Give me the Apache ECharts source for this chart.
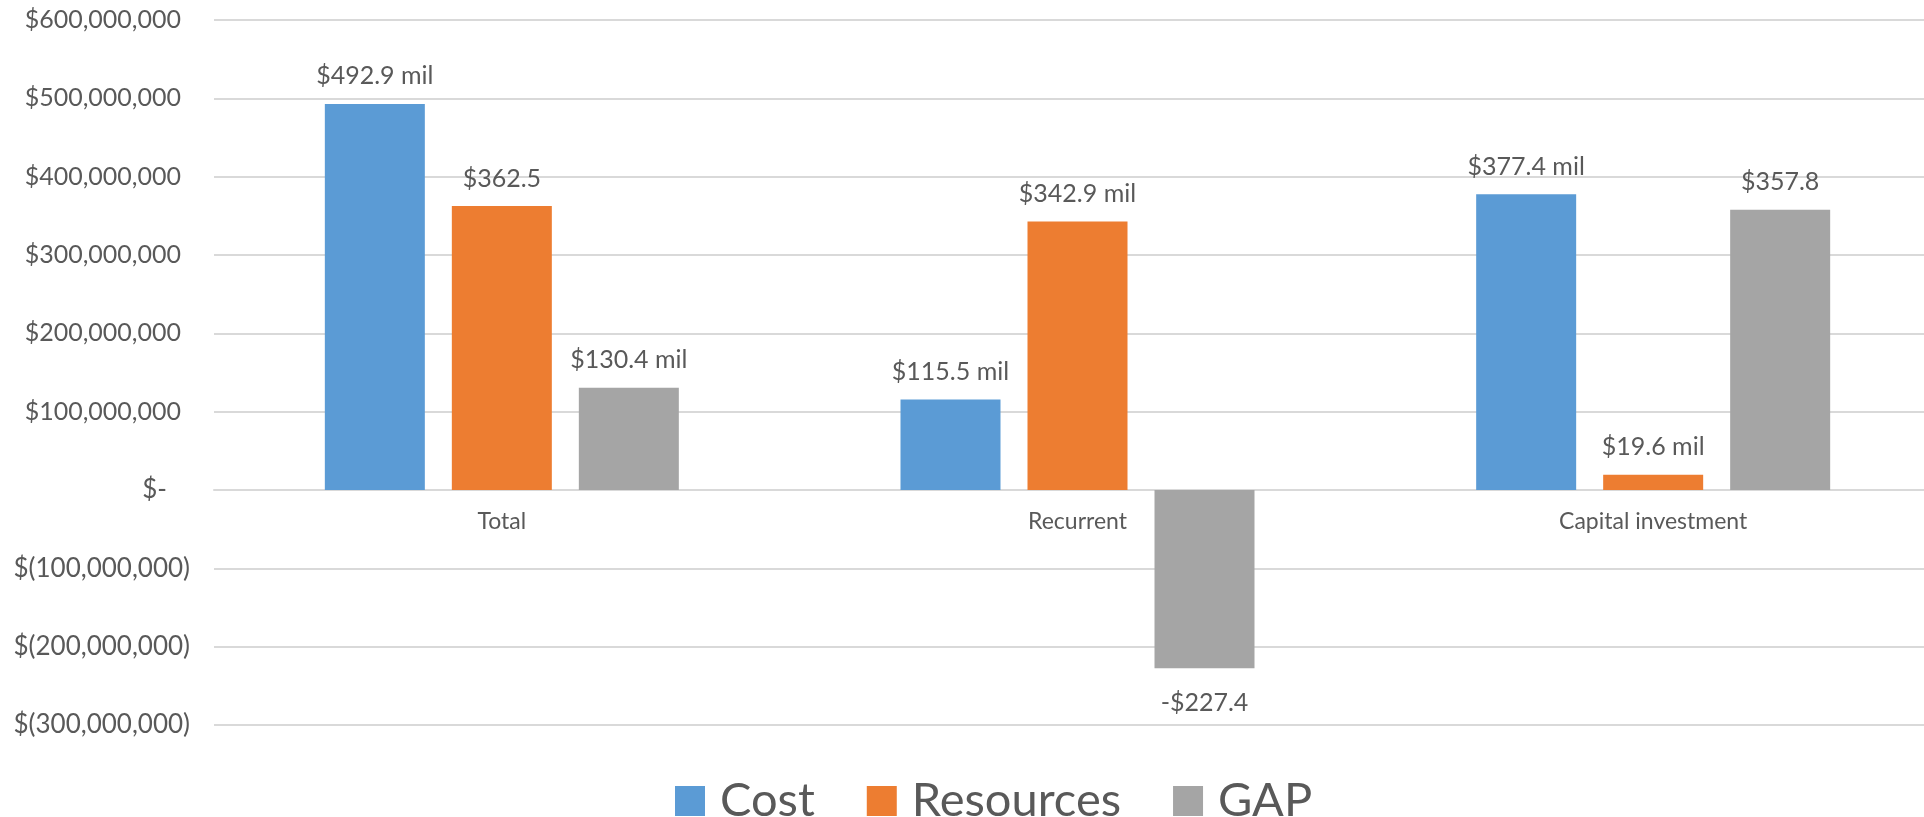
<!DOCTYPE html>
<html>
<head>
<meta charset="utf-8">
<script src="https://cdn.jsdelivr.net/npm/echarts@6/dist/echarts.min.js"></script>
<style>
html,body{margin:0;padding:0;background:#fff;}
#chart{width:1924px;height:817px;}
</style>
</head>
<body>
<div id="chart"></div>
<script>
const categories = ['Total', 'Recurrent', 'Capital investment'];
const costValues = [492.9e6, 115.5e6, 377.4e6];
const resourcesValues = [362.5e6, 342.9e6, 19.6e6];
const gapValues = [130.4e6, -227.4e6, 357.8e6];
const costLabels = ['$492.9 mil', '$115.5 mil', '$377.4 mil'];
const resourcesLabels = ['$362.5', '$342.9 mil', '$19.6 mil'];
const gapLabels = ['$130.4 mil', '-$227.4', '$357.8'];
const yMin = -300e6, yMax = 600e6, yInterval = 100e6;
const yTickLabels = ['$(300,000,000)', '$(200,000,000)', '$(100,000,000)', '$-', '$100,000,000', '$200,000,000', '$300,000,000', '$400,000,000', '$500,000,000', '$600,000,000'];

const FONT = 'Lato';
const TXT = '#595959';

function makeData(values, labels) {
  return values.map((v, i) => ({
    value: v,
    label: {
      formatter: labels[i],
      position: v < 0 ? 'bottom' : 'top',
      distance: v < 0 ? 22 : 15
    }
  }));
}

const chart = echarts.init(document.getElementById('chart'), null, {renderer: 'canvas'});
const barLabel = {show: true, fontFamily: FONT, fontSize: 25, color: TXT};

// axis offset so the category axis sits at the zero line
const plotTop = 20, plotHeight = 705;
const zeroOffset = -plotHeight * (0 - yMin) / (yMax - yMin);

chart.setOption({
  animation: false,
  backgroundColor: '#ffffff',
  grid: {left: 214, width: 1727, top: plotTop, height: plotHeight, containLabel: false, outerBoundsMode: 'none'},
  legend: {
    data: ['Cost', 'Resources', 'GAP'],
    left: 670,
    top: 771,
    itemWidth: 30,
    itemHeight: 30,
    itemGap: 52,
    icon: 'rect',
    textStyle: {fontFamily: FONT, fontSize: 47, color: TXT, lineHeight: 50, padding: [0, 0, 0, 10]}
  },
  xAxis: {
    type: 'category',
    data: categories,
    offset: zeroOffset,
    axisLine: {show: true, onZero: false, lineStyle: {color: '#d9d9d9', width: 2}},
    axisTick: {show: false},
    axisLabel: {fontFamily: FONT, fontSize: 23, color: TXT, margin: 20},
    splitLine: {show: false}
  },
  yAxis: {
    type: 'value',
    min: yMin,
    max: yMax,
    interval: yInterval,
    axisLine: {show: false},
    axisTick: {show: false},
    splitLine: {lineStyle: {color: '#d9d9d9', width: 2}},
    axisLabel: {
      margin: 24,
      formatter: function (v) {
        const idx = Math.round((v - yMin) / yInterval);
        const s = yTickLabels[idx];
        if (v < 0) return '{n|' + s + '}';
        if (v === 0) return '{z|' + s + '}';
        return '{p|' + s + '}';
      },
      rich: {
        n: {fontFamily: FONT, fontSize: 26, color: TXT},
        z: {fontFamily: FONT, fontSize: 26, color: TXT, padding: [0, 23, 0, 0]},
        p: {fontFamily: FONT, fontSize: 25, color: TXT, padding: [0, 9, 0, 0]}
      }
    }
  },
  series: [
    {name: 'Cost', type: 'bar', barWidth: 100, barGap: '27%', itemStyle: {color: '#5B9BD5'}, label: barLabel, data: makeData(costValues, costLabels)},
    {name: 'Resources', type: 'bar', barWidth: 100, barGap: '27%', itemStyle: {color: '#ED7D31'}, label: barLabel, data: makeData(resourcesValues, resourcesLabels)},
    {name: 'GAP', type: 'bar', barWidth: 100, barGap: '27%', itemStyle: {color: '#A5A5A5'}, label: barLabel, data: makeData(gapValues, gapLabels)}
  ]
});
</script>
</body>
</html>
